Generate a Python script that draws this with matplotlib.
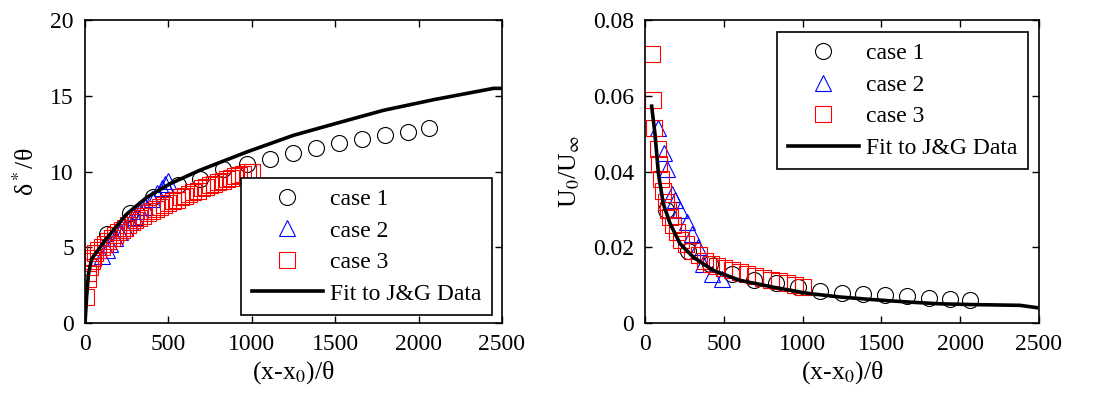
"""
Two-panel comparison of wake displacement thickness and centreline
velocity deficit against the J&G fit.
"""

import matplotlib
matplotlib.use("Agg")
import matplotlib.pyplot as plt

plt.rcParams['font.family'] = ['Liberation Serif', 'DejaVu Serif']
plt.rcParams['mathtext.fontset'] = 'stix'
plt.rcParams['font.size'] = 17

# --- Data ---

# left panel: delta*/theta
case1_x = [130, 270, 410, 555, 690, 830, 970, 1110, 1250, 1385, 1525, 1660, 1800, 1935, 2060]
case1_d = [5.9, 7.3, 8.3, 9.1, 9.5, 10.2, 10.5, 10.85, 11.2, 11.55, 11.9, 12.15, 12.4, 12.6, 12.9]

case2_x = [100, 130, 150, 180, 210, 240, 270, 300, 330, 360, 400, 430, 460, 480, 500]
case2_d = [4.4, 4.8, 5.2, 5.6, 6.0, 6.3, 6.7, 7.0, 7.4, 7.7, 8.2, 8.6, 8.9, 9.2, 9.4]

case3_x = [5, 15, 20, 30, 40, 50, 60, 80, 100, 120, 140, 160, 180, 200, 220, 240, 260, 280,
           300, 325, 350, 375, 400, 425, 450, 475, 500, 525, 550, 575, 600, 625, 650, 675,
           700, 725, 750, 775, 800, 825, 850, 875, 900, 925, 950, 975, 1000]
case3_d = [1.7, 2.9, 3.3, 3.7, 4.1, 4.3, 4.6, 4.8, 5.0, 5.2, 5.4, 5.6, 5.8, 6.0, 6.15, 6.3, 6.5, 6.65,
           6.8, 6.95, 7.1, 7.25, 7.4, 7.55, 7.65, 7.8, 7.9, 8.05, 8.15, 8.3, 8.4, 8.5, 8.65, 8.75,
           8.9, 9.0, 9.1, 9.2, 9.3, 9.4, 9.5, 9.6, 9.7, 9.8, 9.85, 9.95, 10.0]

fit_x_d = [0, 10, 20, 40, 130, 250, 370, 510, 690, 970, 1250, 1510, 1790, 2090, 2450, 2500]
fit_d = [0.0, 1.8, 3.2, 4.25, 5.6, 7.2, 8.3, 9.2, 10.1, 11.3, 12.4, 13.2, 14.05, 14.75, 15.5, 15.5]

# right panel: U0/Uinf
case1_u = [0.030, 0.019, 0.0155, 0.013, 0.0115, 0.0105, 0.0095, 0.0084, 0.0080, 0.0078,
           0.0075, 0.0071, 0.0066, 0.0064, 0.0060]

case2_xu = [85, 120, 142, 169, 190, 222, 264, 296, 338, 370, 423, 486]
case2_u = [0.0514, 0.0448, 0.0408, 0.0342, 0.0324, 0.030, 0.0267, 0.0236, 0.020, 0.0157, 0.013, 0.0117]

case3_xu = [42, 53, 55, 80, 90, 100, 115, 130, 145, 160, 180, 200, 230, 260, 300, 340, 380,
            420, 460, 500, 550, 600, 650, 700, 750, 800, 850, 900, 950, 1000]
case3_u = [0.071, 0.059, 0.0515, 0.046, 0.042, 0.038, 0.035, 0.032, 0.030, 0.028, 0.026, 0.024,
           0.022, 0.021, 0.019, 0.018, 0.0165, 0.0155, 0.015, 0.0145, 0.014, 0.0135, 0.013,
           0.0125, 0.012, 0.0115, 0.011, 0.0105, 0.010, 0.0095]

fit_x_u = [42, 63, 85, 116, 159, 222, 307, 434, 603, 814, 1026, 1237, 1449, 1660, 1872, 2083,
           2380, 2485]
fit_u = [0.0573, 0.050, 0.0395, 0.0315, 0.0263, 0.021, 0.0174, 0.0139, 0.0113, 0.0095, 0.0079,
         0.0069, 0.0062, 0.0056, 0.0051, 0.0049, 0.0047, 0.0041]

MS = 11.5
MEW = 0.8
LABEL_SIZE = 18.5


def style_axes(ax):
    ax.tick_params(direction='in', top=True, right=True, length=5, width=1, pad=8)
    for s in ax.spines.values():
        s.set_linewidth(1.2)
    ax.set_xlim(0, 2500)
    ax.set_xticks([0, 500, 1000, 1500, 2000, 2500])
    ax.set_xlabel('(x-x$_0$)/θ', fontsize=LABEL_SIZE, labelpad=3)


def add_markers(ax, xs, ys):
    ax.plot(xs[0], ys[0], 'o', ms=MS, mfc='none', mec='black', mew=MEW, label='case 1')
    ax.plot(xs[1], ys[1], '^', ms=MS, mfc='none', mec='blue', mew=MEW, label='case 2')
    ax.plot(xs[2], ys[2], 's', ms=MS, mfc='none', mec='red', mew=MEW, label='case 3')
    ax.plot(xs[3], ys[3], '-', color='black', lw=2.6, label='Fit to J&G Data')


def add_legend(ax, loc, anchor):
    leg = ax.legend(loc=loc, bbox_to_anchor=anchor, fancybox=False, edgecolor='black',
                    framealpha=1, borderaxespad=0, handlelength=3.0, handletextpad=0.3,
                    labelspacing=0.42, borderpad=0.45, fontsize=17)
    leg.get_frame().set_linewidth(1.2)


fig = plt.figure(figsize=(10.97, 3.96), dpi=100)
ax1 = fig.add_axes([0.0775, 0.184, 0.380, 0.765])
ax2 = fig.add_axes([0.588, 0.184, 0.359, 0.765])

add_markers(ax1, [case1_x, case2_x, case3_x, fit_x_d], [case1_d, case2_d, case3_d, fit_d])
style_axes(ax1)
ax1.set_ylim(0, 20)
ax1.set_yticks([0, 5, 10, 15, 20])
ax1.set_ylabel('δ$^*$/θ', fontsize=LABEL_SIZE, labelpad=8)
add_legend(ax1, 'lower right', (0.976, 0.026))

add_markers(ax2, [case1_x, case2_xu, case3_xu, fit_x_u], [case1_u, case2_u, case3_u, fit_u])
style_axes(ax2)
ax2.set_ylim(0, 0.08)
ax2.set_yticks([0, 0.02, 0.04, 0.06, 0.08])
ax2.set_yticklabels(['0', '0.02', '0.04', '0.06', '0.08'])
ax2.set_ylabel('U$_0$/U$_\\infty$', fontsize=LABEL_SIZE, labelpad=8)
add_legend(ax2, 'upper right', (0.972, 0.96))

fig.savefig('out.png', dpi=100)
